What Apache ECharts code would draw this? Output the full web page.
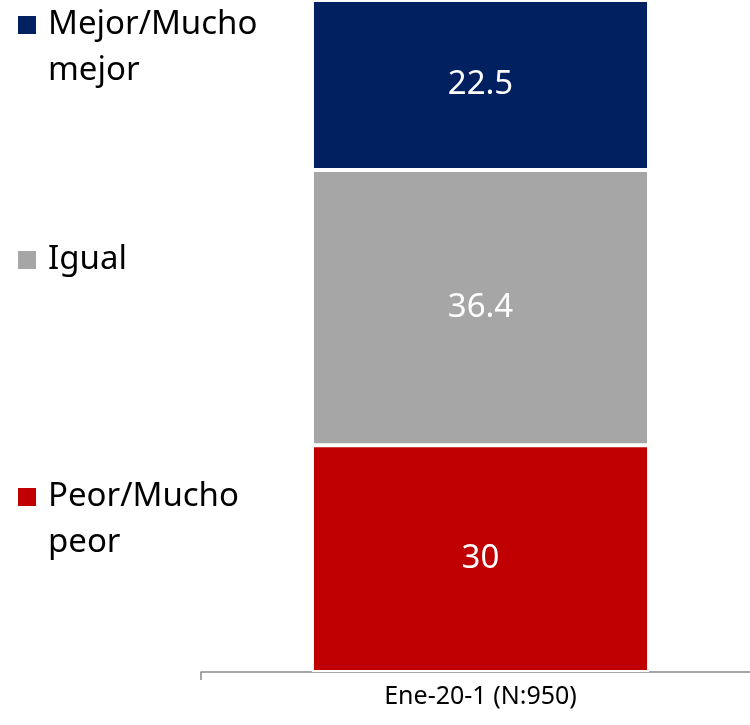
<!DOCTYPE html>
<html>
<head>
<meta charset="utf-8">
<script src="https://cdn.jsdelivr.net/npm/echarts@6/dist/echarts.min.js"></script>
<style>
  html, body { margin: 0; padding: 0; background: #fff; overflow: hidden; }
  #main { width: 800px; height: 725px; }
</style>
</head>
<body>
<div id="main"></div>
<script>
// datos del gráfico
const categories = ['Ene-20-1 (N:950)'];
const seriesNames = ['Peor/Mucho peor', 'Igual', 'Mejor/Mucho mejor'];
const legendLabels = ['Peor/Mucho\npeor', 'Igual', 'Mejor/Mucho\nmejor'];
const peorValues = [30];
const igualValues = [36.4];
const mejorValues = [22.5];

const colors = ['#C00000', '#A6A6A6', '#002060'];
const FONT = '"Noto Sans", "Open Sans", sans-serif';

const chart = echarts.init(document.getElementById('main'));

const makeSeries = (name, data, color) => ({
  name: name,
  type: 'bar',
  stack: 'total',
  barWidth: '60.3%',
  data: data,
  itemStyle: { color: color, borderColor: '#fff', borderWidth: 2 },
  label: {
    show: true,
    position: 'inside',
    color: '#fff',
    fontFamily: FONT,
    fontSize: 33
  }
});

// leyenda a la izquierda (centro vertical de la primera línea)
const legendY = [497, 260, 25];
const legendGraphics = [];
seriesNames.forEach((n, i) => {
  legendGraphics.push({
    type: 'rect',
    left: 18,
    top: legendY[i] - 9,
    shape: { width: 18, height: 18 },
    style: { fill: colors[i] }
  });
  legendGraphics.push({
    type: 'text',
    x: 48,
    y: legendY[i] - 23,
    style: {
      text: legendLabels[i],
      font: '33px ' + FONT,
      fill: '#000',
      lineHeight: 46,
      verticalAlign: 'top'
    }
  });
});

const total = peorValues[0] + igualValues[0] + mejorValues[0];

chart.setOption({
  animation: false,
  grid: { left: 201, right: 40, top: -1, bottom: 53, containLabel: false },
  xAxis: {
    type: 'category',
    data: categories,
    axisLine: { lineStyle: { color: '#898989', width: 1.5 } },
    axisTick: { show: true, length: 8, lineStyle: { color: '#898989', width: 1.5 } },
    axisLabel: {
      color: '#000',
      fontFamily: FONT,
      fontSize: 25,
      margin: 12
    }
  },
  yAxis: {
    type: 'value',
    min: 0,
    max: total,
    show: false
  },
  graphic: legendGraphics,
  series: [
    makeSeries(seriesNames[0], peorValues, colors[0]),
    makeSeries(seriesNames[1], igualValues, colors[1]),
    makeSeries(seriesNames[2], mejorValues, colors[2])
  ]
});
</script>
</body>
</html>
